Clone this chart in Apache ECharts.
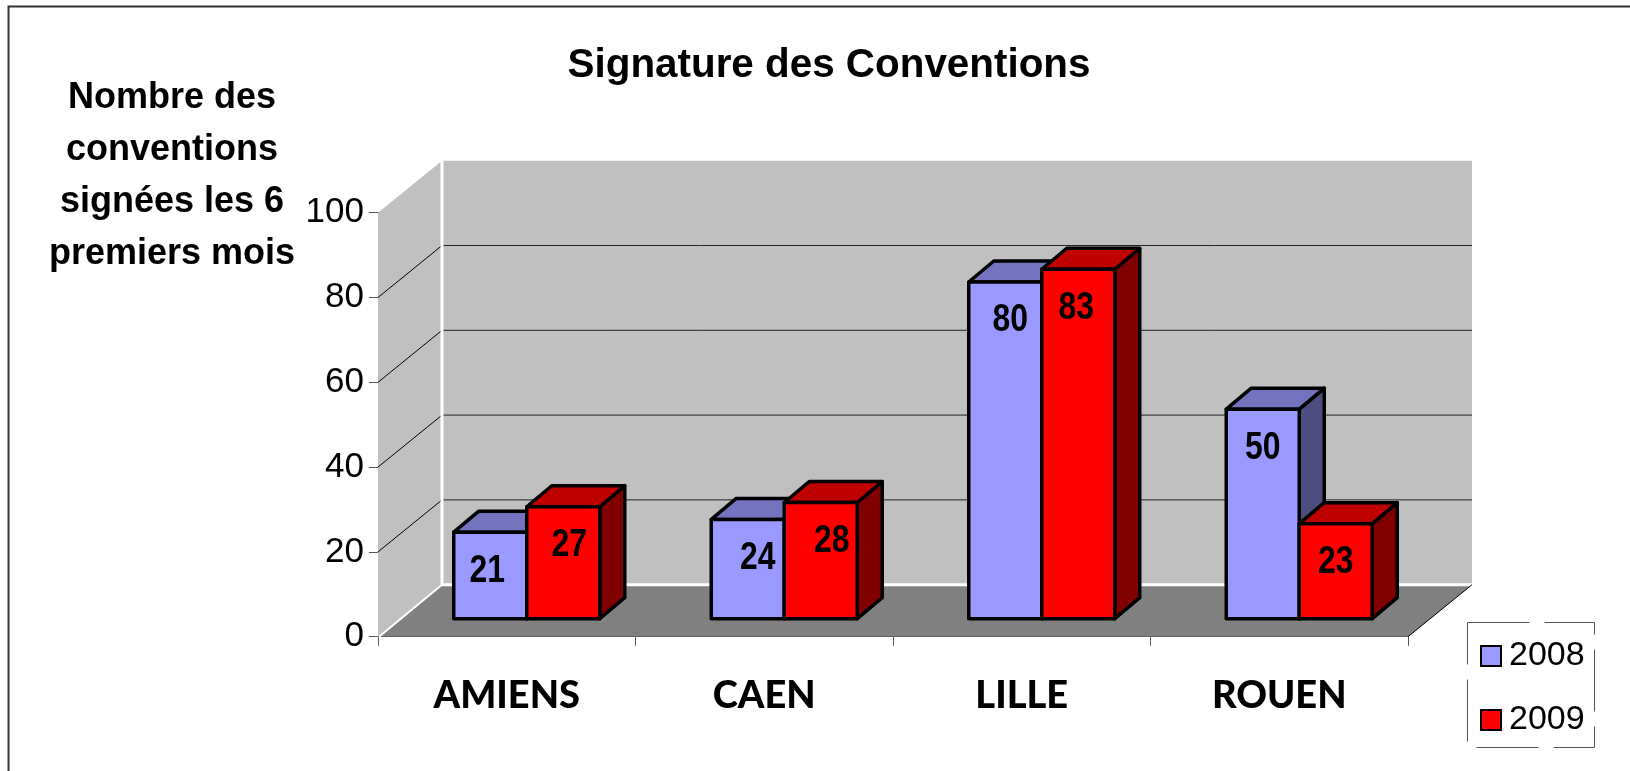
<!DOCTYPE html>
<html lang="fr">

<head>
    <meta charset="UTF-8">
    <title>Signature des Conventions</title>
    <script src="https://cdn.jsdelivr.net/npm/echarts@6/dist/echarts.min.js"></script>
    <style>
        html, body {
            margin: 0;
            background: #fff;
        }
        #box {
            width: 1630px;
            height: 771px;
        }
    </style>
</head>

<body>
    <div id="box"></div>
    <script>
        const villes = ['AMIENS', 'CAEN', 'LILLE', 'ROUEN']
        const valeurs2008 = [21, 24, 80, 50]
        const valeurs2009 = [27, 28, 83, 23]
        const yTicks = [20, 40, 60, 80]

        // fake 3d offsets, measured on the picture
        const wallDx = 64, wallDy = -52
        const barShift = 20, barFloorDy = -18, barTopFix = 2.5
        const barDx = 25, barDy = -21
        const barW = 73
        // the value labels are not quite centred on the bars in the original
        const labelDx2008 = [-3, 10, 5, 0]
        const labelDx2009 = [6, 11, -2, 0]

        const arial = '"Liberation Sans", Arial, sans-serif'

        function poly(pts, fill, stroke, lw) {
            return {
                type: 'polygon',
                shape: { points: pts },
                style: { fill: fill, stroke: stroke || null, lineWidth: lw || 0, lineJoin: 'round' }
            }
        }
        function seg(x1, y1, x2, y2, col, lw) {
            return {
                type: 'line',
                shape: { x1: x1, y1: y1, x2: x2, y2: y2 },
                style: { stroke: col, lineWidth: lw }
            }
        }

        // walls and floor
        function renderWalls(params, api) {
            const g = params.coordSys
            const x0 = g.x, x1 = g.x + g.width
            const top = g.y, bot = g.y + g.height
            const kids = [
                poly([[x0 + wallDx, top + wallDy], [x1 + wallDx, top + wallDy], [x1 + wallDx, bot + wallDy], [x0 + wallDx, bot + wallDy]], '#c0c0c0'),
                poly([[x0, top], [x0 + wallDx, top + wallDy], [x0 + wallDx, bot + wallDy], [x0, bot]], '#c0c0c0'),
                poly([[x0, bot], [x0 + wallDx, bot + wallDy], [x1 + wallDx, bot + wallDy], [x1, bot]], '#808080')
            ]
            yTicks.forEach(t => {
                const y = api.coord([0, t])[1]
                kids.push(seg(x0, y, x0 + wallDx, y + wallDy, '#000', 1))
                kids.push(seg(x0 + wallDx, y + wallDy, x1 + wallDx, y + wallDy, '#222', 1))
            })
            kids.push(seg(x0 + wallDx, top + wallDy, x0 + wallDx, bot + wallDy, '#fff', 3))
            kids.push(seg(x0 + wallDx, bot + wallDy, x1 + wallDx, bot + wallDy, '#fff', 3))
            kids.push(seg(x0 + 1, bot, x0 + wallDx, bot + wallDy, '#fff', 2))
            kids.push(seg(x1, bot, x1 + wallDx, bot + wallDy, '#000', 1))
            return { type: 'group', children: kids }
        }

        function renderBar(side, front, dessus, flanc, labelDx) {
            return function (params, api) {
                const i = api.value(0)
                const p = api.coord([i, api.value(1)])
                const base = api.coord([i, 0])
                const x = p[0] + barShift + (side < 0 ? -barW : 0)
                const yb = base[1] + barFloorDy
                const yt = p[1] + barFloorDy + barTopFix
                const xr = x + barW
                return {
                    type: 'group',
                    children: [
                        poly([[xr, yt], [xr + barDx, yt + barDy], [xr + barDx, yb + barDy], [xr, yb]], flanc, '#000', 3.5),
                        poly([[x, yt], [x + barDx, yt + barDy], [xr + barDx, yt + barDy], [xr, yt]], dessus, '#000', 3.5),
                        poly([[x, yt], [xr, yt], [xr, yb], [x, yb]], front, '#000', 3.5),
                        {
                            type: 'text',
                            x: x + barW / 2 + labelDx[i],
                            y: yt + 39,
                            scaleX: 0.84,
                            style: {
                                x: 0,
                                y: 0,
                                text: String(api.value(1)),
                                fill: '#000',
                                font: 'bold 38px ' + arial,
                                align: 'center',
                                verticalAlign: 'middle'
                            }
                        }
                    ]
                }
            }
        }

        const chart = echarts.init(document.getElementById('box'), null, { renderer: 'canvas' })
        const option = {
            animation: false,
            title: [{
                text: 'Signature des Conventions',
                left: 824,
                top: 41,
                textAlign: 'center',
                textStyle: { fontFamily: arial, fontWeight: 'bold', fontSize: 40.4, color: '#000' }
            }, {
                text: 'Nombre des\nconventions\nsignées les 6\npremiers mois',
                left: 167,
                top: 67,
                textAlign: 'center',
                textStyle: { fontFamily: arial, fontWeight: 'bold', fontSize: 36, lineHeight: 52, color: '#000' }
            }],
            legend: {
                orient: 'vertical',
                left: 1480,
                top: 639,
                padding: 0,
                itemWidth: 20,
                itemHeight: 20,
                itemGap: 30,
                icon: 'rect',
                data: ['2008', '2009'],
                textStyle: { fontFamily: arial, fontSize: 34, color: '#000', padding: [0, 0, 0, 3] },
                itemStyle: { borderColor: '#000', borderWidth: 2 }
            },
            graphic: [{
                type: 'rect',
                shape: { x: 8.5, y: 6.5, width: 1700, height: 900 },
                style: { fill: null, stroke: '#333', lineWidth: 2 },
                silent: true
            }, {
                type: 'rect',
                shape: { x: 1467.5, y: 622.5, width: 127, height: 125 },
                style: { fill: null, stroke: '#555', lineWidth: 1, lineDash: [62, 15] },
                silent: true
            }],
            grid: { left: 378, top: 212.7, width: 1030, height: 424 },
            xAxis: {
                type: 'category',
                data: villes,
                boundaryGap: true,
                axisLine: { lineStyle: { color: '#111', width: 1 } },
                axisTick: { show: true, alignWithLabel: false, length: 9, lineStyle: { color: '#555' } },
                axisLabel: {
                    margin: 40,
                    fontFamily: 'Lato, "Open Sans", sans-serif',
                    fontWeight: 900,
                    fontSize: 38,
                    color: '#000',
                    interval: 0
                }
            },
            yAxis: {
                type: 'value',
                min: 0,
                max: 100,
                interval: 20,
                splitLine: { show: false },
                axisLine: { show: true, lineStyle: { color: '#555', width: 1 } },
                axisTick: { show: true, length: 9, lineStyle: { color: '#555' } },
                axisLabel: { margin: 14, fontFamily: arial, fontSize: 35, color: '#000' }
            },
            series: [{
                type: 'custom',
                name: 'murs',
                data: [[0, 0]],
                clip: false,
                silent: true,
                renderItem: renderWalls
            }, {
                type: 'custom',
                name: '2008',
                itemStyle: { color: '#9999ff' },
                data: valeurs2008.map((v, i) => [i, v]),
                encode: { x: 0, y: 1 },
                clip: false,
                renderItem: renderBar(-1, '#9999ff', '#7373bf', '#4d4d80', labelDx2008)
            }, {
                type: 'custom',
                name: '2009',
                itemStyle: { color: '#ff0000' },
                data: valeurs2009.map((v, i) => [i, v]),
                encode: { x: 0, y: 1 },
                clip: false,
                renderItem: renderBar(1, '#ff0000', '#bf0000', '#800000', labelDx2009)
            }]
        }
        chart.setOption(option)
    </script>
</body>

</html>
